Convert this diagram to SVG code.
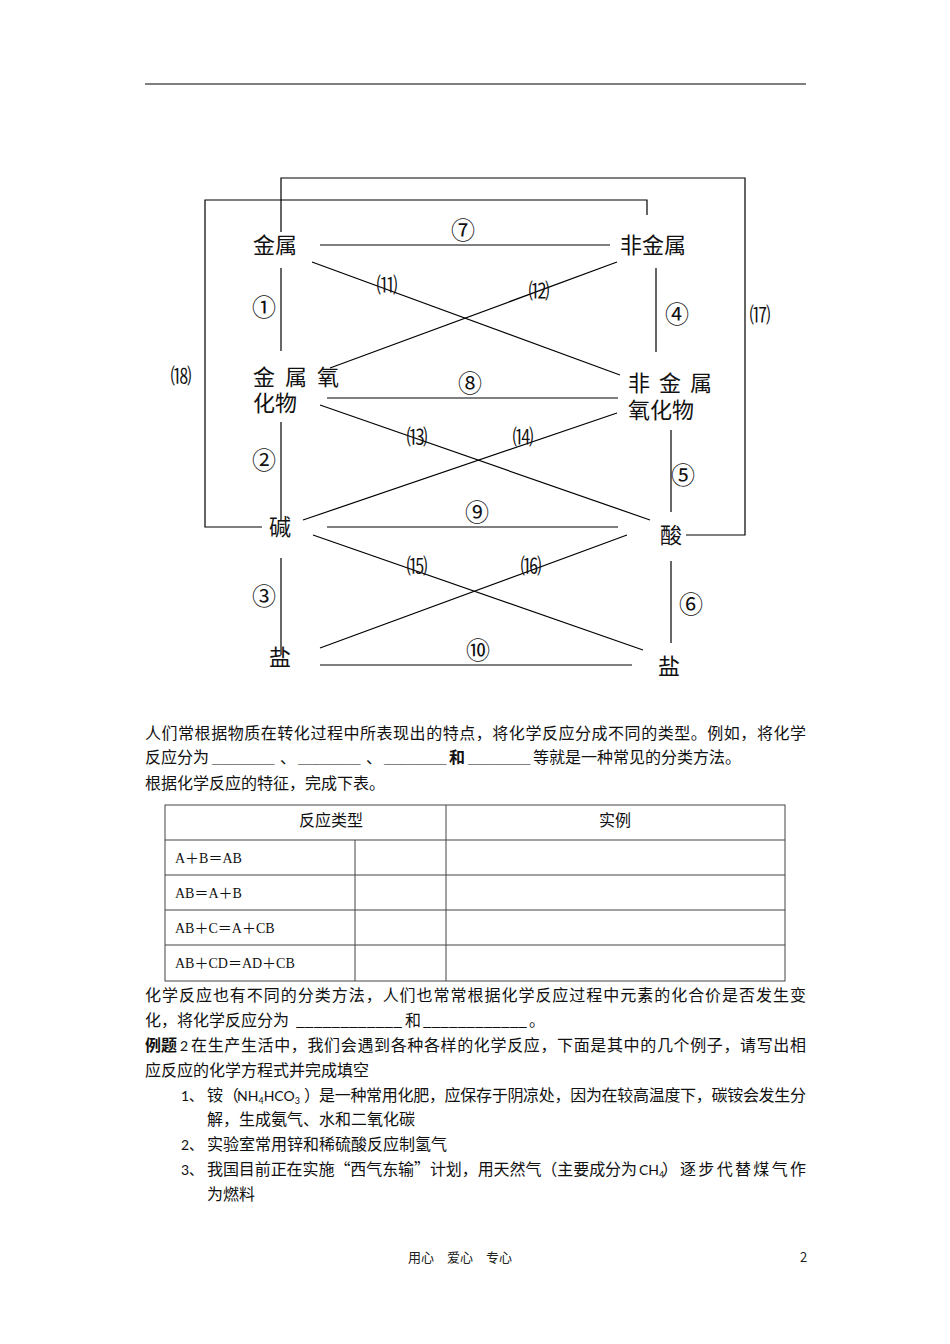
<svg xmlns="http://www.w3.org/2000/svg" width="950" height="1344" viewBox="0 0 950 1344">
<style>
.bg{fill:#fff}
.ln{stroke:#000;stroke-width:1.2;fill:none}
.node{font-family:"Noto Sans CJK SC","Noto Sans",sans-serif;font-size:22px;fill:#111;dominant-baseline:central}
.cl{font-family:"Noto Sans CJK SC","DejaVu Sans",sans-serif;font-size:24px;fill:#111;text-anchor:middle;dominant-baseline:central}
.pl{font-family:"Noto Sans CJK SC","DejaVu Sans",sans-serif;font-size:21px;fill:#111;text-anchor:middle;dominant-baseline:central}
.t{font-family:"Noto Sans CJK SC","Noto Sans",sans-serif;font-size:16px;fill:#111}
.b{font-weight:bold}
.us{font-family:"Liberation Sans",sans-serif;font-weight:bold}
.lat{font-family:"Lato","Liberation Sans","Noto Sans CJK SC",sans-serif;font-size:14px;fill:#111}
.tb{stroke:#444;stroke-width:1;fill:none}
.tt{font-family:"Liberation Serif","Noto Sans CJK SC",serif;font-size:14px;fill:#111}
.ft{font-family:"Noto Sans CJK SC","Liberation Sans",sans-serif;font-size:13px;fill:#222}
</style>
<rect class="bg" x="0" y="0" width="950" height="1344"/>
<line x1="145" y1="84" x2="806" y2="84" stroke="#000" stroke-width="1.2"/>

<g id="connectors">
  <polyline class="ln" points="281,232 281,178 745,178 745,535 686,535"/>
  <polyline class="ln" points="647,215 647,200 205,200 205,527 262,527"/>
  <line class="ln" x1="320" y1="245" x2="610" y2="245"/>
  <line class="ln" x1="327" y1="398" x2="618" y2="398"/>
  <line class="ln" x1="327" y1="527" x2="618" y2="527"/>
  <line class="ln" x1="320" y1="665" x2="632" y2="665"/>
  <line class="ln" x1="281" y1="268" x2="281" y2="351"/>
  <line class="ln" x1="281" y1="422" x2="281" y2="520"/>
  <line class="ln" x1="281" y1="558" x2="281" y2="655"/>
  <line class="ln" x1="656" y1="268" x2="656" y2="352"/>
  <line class="ln" x1="671" y1="430" x2="671" y2="512"/>
  <line class="ln" x1="671" y1="561" x2="671" y2="643"/>
  <line class="ln" x1="312" y1="262" x2="620" y2="375"/>
  <line class="ln" x1="617" y1="262" x2="330" y2="368"/>
  <line class="ln" x1="320" y1="405" x2="650" y2="520"/>
  <line class="ln" x1="617" y1="413" x2="303" y2="520"/>
  <line class="ln" x1="313" y1="535" x2="643" y2="650"/>
  <line class="ln" x1="627" y1="535" x2="320" y2="648"/>
  <g id="connector-labels">
    <text class="cl" x="463" y="228">⑦</text>
    <text class="cl" x="470" y="381">⑧</text>
    <text class="cl" x="477" y="510">⑨</text>
    <text class="cl" x="478" y="648">⑩</text>
    <text class="cl" x="264" y="305">①</text>
    <text class="cl" x="264" y="458">②</text>
    <text class="cl" x="264" y="594">③</text>
    <text class="cl" x="677" y="312">④</text>
    <text class="cl" x="683" y="473">⑤</text>
    <text class="cl" x="691" y="602">⑥</text>
    <text class="pl" x="387" y="283">⑾</text>
    <text class="pl" x="539" y="289">⑿</text>
    <text class="pl" x="417" y="435">⒀</text>
    <text class="pl" x="523" y="435">⒁</text>
    <text class="pl" x="417" y="564">⒂</text>
    <text class="pl" x="531" y="564">⒃</text>
    <text class="pl" x="760" y="313">⒄</text>
    <text class="pl" x="181" y="374">⒅</text>
  </g>
</g>

<g id="node-metal"><text class="node" x="253" y="243">金属</text></g>
<g id="node-nonmetal"><text class="node" x="620" y="243">非金属</text></g>
<g id="node-metal-oxide"><text class="node"><tspan x="253" y="375" letter-spacing="10">金属氧</tspan><tspan x="253" y="401" letter-spacing="0">化物</tspan></text></g>
<g id="node-nonmetal-oxide"><text class="node"><tspan x="628" y="381" letter-spacing="9">非金属</tspan><tspan x="628" y="408" letter-spacing="0">氧化物</tspan></text></g>
<g id="node-base"><text class="node" x="280" y="525" text-anchor="middle">碱</text></g>
<g id="node-acid"><text class="node" x="671" y="533" text-anchor="middle">酸</text></g>
<g id="node-salt-left"><text class="node" x="280" y="655" text-anchor="middle">盐</text></g>
<g id="node-salt-right"><text class="node" x="669" y="664" text-anchor="middle">盐</text></g>

<g id="text-block">
  <text class="t" x="145" y="739" textLength="661" lengthAdjust="spacing">人们常根据物质在转化过程中所表现出的特点，将化学反应分成不同的类型。例如，将化学</text>
  <text class="t" y="763"><tspan x="145">反应分为</tspan><tspan x="212" class="us">_______</tspan><tspan x="280">、</tspan><tspan x="298" class="us">_______</tspan><tspan x="366">、</tspan><tspan x="384" class="us">_______</tspan><tspan x="449" class="b">和</tspan><tspan x="468" class="us">_______</tspan><tspan x="533">等就是一种常见的分类方法。</tspan></text>
  <text class="t" x="145" y="789">根据化学反应的特征，完成下表。</text>
</g>

<g id="table">
  <rect class="tb" x="165" y="805" width="620" height="176"/>
  <line class="tb" x1="165" y1="840" x2="785" y2="840"/>
  <line class="tb" x1="165" y1="875" x2="785" y2="875"/>
  <line class="tb" x1="165" y1="910" x2="785" y2="910"/>
  <line class="tb" x1="165" y1="945" x2="785" y2="945"/>
  <line class="tb" x1="355" y1="840" x2="355" y2="981"/>
  <line class="tb" x1="446" y1="805" x2="446" y2="981"/>
  <text class="t" x="331" y="826" text-anchor="middle" font-size="15">反应类型</text>
  <text class="t" x="615" y="826" text-anchor="middle" font-size="15">实例</text>
  <text class="tt" x="175" y="863">A＋B＝AB</text>
  <text class="tt" x="175" y="898">AB＝A＋B</text>
  <text class="tt" x="175" y="933">AB＋C＝A＋CB</text>
  <text class="tt" x="175" y="968">AB＋CD＝AD＋CB</text>
</g>

<g id="text-block-2">
  <text class="t" x="145" y="1001" textLength="661" lengthAdjust="spacing">化学反应也有不同的分类方法，人们也常常根据化学反应过程中元素的化合价是否发生变</text>
  <text class="t" x="145" y="1026">化，将化学反应分为</text>
  <text class="t" x="296" y="1026" textLength="106" lengthAdjust="spacingAndGlyphs">____________</text>
  <text class="t" x="405" y="1026">和</text>
  <text class="t" x="423" y="1026" textLength="104" lengthAdjust="spacingAndGlyphs">____________</text>
  <text class="t" x="529" y="1026">。</text>
  <text class="t b" x="145" y="1051">例题</text>
  <text class="lat" x="180" y="1051">2</text>
  <text class="t" x="191" y="1051" textLength="615" lengthAdjust="spacing">在生产生活中，我们会遇到各种各样的化学反应，下面是其中的几个例子，请写出相</text>
  <text class="t" x="145" y="1076">应反应的化学方程式并完成填空</text>
  <text class="lat" x="181" y="1101">1、</text>
  <text class="t" x="207" y="1101">铵（</text>
  <text class="lat" x="237" y="1101">NH<tspan font-size="9" dy="3">4</tspan><tspan dy="-3">HCO</tspan><tspan font-size="9" dy="3">3</tspan></text>
  <text class="t" x="304" y="1101">）</text>
  <text class="t" x="319" y="1101" textLength="487" lengthAdjust="spacing">是一种常用化肥，应保存于阴凉处，因为在较高温度下，碳铵会发生分</text>
  <text class="t" x="207" y="1125">解，生成氨气、水和二氧化碳</text>
  <text class="lat" x="181" y="1150">2、</text>
  <text class="t" x="207" y="1150">实验室常用锌和稀硫酸反应制氢气</text>
  <text class="lat" x="181" y="1175">3、</text>
  <text class="t" x="207" y="1175" textLength="430" lengthAdjust="spacing">我国目前正在实施“西气东输”计划，用天然气（主要成分为</text>
  <text class="lat" x="639" y="1175">CH<tspan font-size="9" dy="3">4</tspan></text>
  <text class="t" x="662" y="1175">）</text>
  <text class="t" x="680" y="1175" textLength="126" lengthAdjust="spacing">逐步代替煤气作</text>
  <text class="t" x="207" y="1200">为燃料</text>
</g>

<g id="footer">
  <text class="ft" x="408" y="1262">用心</text>
  <text class="ft" x="447" y="1262">爱心</text>
  <text class="ft" x="486" y="1262">专心</text>
  <text class="ft" x="800" y="1262" font-family="Liberation Sans, sans-serif">2</text>
</g>
</svg>
